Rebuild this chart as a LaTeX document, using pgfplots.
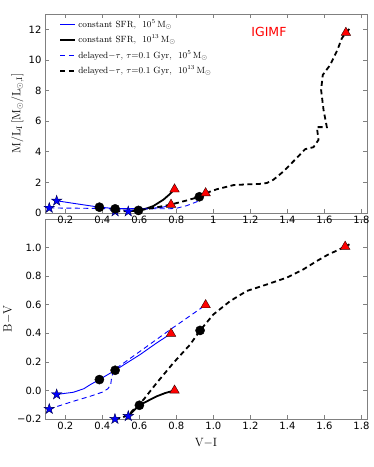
\documentclass[border=0pt]{standalone}
\usepackage{fontspec}
\usepackage{pgfplots}
\pgfplotsset{compat=1.18}
\newfontfamily\dejavu{DejaVu Sans}
\definecolor{framegray}{RGB}{128,128,128}
\definecolor{mplblue}{RGB}{0,0,255}
\definecolor{mplred}{RGB}{255,0,0}

% filled five-pointed star
\pgfdeclareplotmark{fstar}{%
  \pgfpathmoveto{\pgfpointpolar{90}{\pgfplotmarksize}}%
  \pgfpathlineto{\pgfpointpolar{126}{0.382\pgfplotmarksize}}%
  \pgfpathlineto{\pgfpointpolar{162}{\pgfplotmarksize}}%
  \pgfpathlineto{\pgfpointpolar{198}{0.382\pgfplotmarksize}}%
  \pgfpathlineto{\pgfpointpolar{234}{\pgfplotmarksize}}%
  \pgfpathlineto{\pgfpointpolar{270}{0.382\pgfplotmarksize}}%
  \pgfpathlineto{\pgfpointpolar{306}{\pgfplotmarksize}}%
  \pgfpathlineto{\pgfpointpolar{342}{0.382\pgfplotmarksize}}%
  \pgfpathlineto{\pgfpointpolar{18}{\pgfplotmarksize}}%
  \pgfpathlineto{\pgfpointpolar{54}{0.382\pgfplotmarksize}}%
  \pgfpathclose
  \pgfusepathqfillstroke}

\pgfplotsset{
  panel/.style={
    scale only axis, width=322pt,
    xmin=0.09, xmax=1.83,
    axis line style={framegray, line width=0.8pt},
    tick style={framegray, line width=0.6pt},
    tick align=inside, major tick length=4pt,
    xtick={0.2,0.4,0.6,0.8,1.0,1.2,1.4,1.6,1.8},
    ticklabel style={font=\dejavu\fontsize{10}{12}\selectfont},
    /pgf/number format/assume math mode=true,
    label style={font=\fontsize{12}{14}\selectfont},
  },
  sfr1/.style={mplblue, line width=0.9pt},
  sfr2/.style={black, line width=1.8pt},
  del1/.style={mplblue, line width=0.9pt, dash pattern=on 5pt off 3.5pt},
  del2/.style={black, line width=1.8pt, dash pattern=on 5pt off 3.5pt},
  stars/.style={only marks, mark=fstar, mark size=5.5pt, mark options={solid, fill=mplblue, draw=black!70!blue, line width=0.4pt}, forget plot},
  dots/.style={only marks, mark=*, mark size=4.6pt, mark options={solid, fill=black, draw=black}, forget plot},
  tris/.style={only marks, mark=triangle*, mark size=5.5pt, mark options={solid, fill=mplred, draw=black!80!red, line width=0.4pt}, forget plot},
}

\begin{document}
\begin{tikzpicture}
% lower panel: B-V against V-I
\begin{axis}[panel, at={(0pt,0pt)}, height=200pt,
    ymin=-0.2, ymax=1.2,
    ytick={-0.2,0,0.2,0.4,0.6,0.8,1.0},
    yticklabels={−0.2,0.0,0.2,0.4,0.6,0.8,1.0},
    xticklabels={0.2,0.4,0.6,0.8,1.0,1.2,1.4,1.6,1.8},
    xlabel={$\mathrm{V{-}I}$}, ylabel={$\mathrm{B{-}V}$},
    xlabel style={at={(axis description cs:0.5,-0.12)}, anchor=center},
    ylabel style={at={(axis description cs:-0.115,0.5)}, anchor=center},
]
\addplot[sfr1] coordinates {(0.153,-0.028) (0.243,-0.013) (0.300,0.012) (0.334,0.04) (0.384,0.076) (0.469,0.141) (0.604,0.251) (0.694,0.333) (0.771,0.398)};
\addplot[del1] coordinates {(0.113,-0.13) (0.243,-0.076) (0.334,-0.041) (0.400,-0.012) (0.430,0.012) (0.445,0.040) (0.450,0.090) (0.458,0.130) (0.486,0.165) (0.604,0.274) (0.766,0.425) (0.958,0.598)};
\addplot[sfr2] coordinates {(0.54,-0.18) (0.57,-0.14) (0.60,-0.104) (0.65,-0.07) (0.694,-0.041) (0.74,-0.018) (0.79,0.0)};
\addplot[del2] coordinates {(0.468,-0.2) (0.51,-0.19) (0.55,-0.16) (0.60,-0.09) (0.622,-0.065) (0.694,0.053) (0.784,0.193) (0.874,0.321) (0.928,0.42) (1.0,0.532) (1.09,0.625) (1.18,0.696) (1.289,0.742) (1.397,0.79) (1.487,0.848) (1.559,0.906) (1.613,0.946) (1.712,1.007) (1.735,1.023)};
\addplot[stars] coordinates {(0.113,-0.13) (0.153,-0.028) (0.468,-0.2) (0.54,-0.18)};
\addplot[dots] coordinates {(0.384,0.076) (0.469,0.141) (0.60,-0.104) (0.928,0.42)};
\addplot[tris] coordinates {(0.771,0.398) (0.79,0.0) (0.958,0.598) (1.712,1.007)};
\end{axis}

% upper panel: mass-to-light ratio against V-I
\begin{axis}[panel, at={(0pt,206pt)}, height=199pt,
    ymin=0, ymax=13,
    ytick={0,2,4,6,8,10,12},
    yticklabels={0,2,4,6,8,10,12},
    xticklabel={},
    ylabel={$\mathrm{M/L_I\,[M_\odot/L_{\odot,I}]}$},
    ylabel style={at={(axis description cs:-0.085,0.5)}, anchor=center},
    legend cell align=left,
    legend style={draw=none, fill=none, at={(0.035,0.99)}, anchor=north west,
        font=\fontsize{9}{10}\selectfont, row sep=2.5pt,
        nodes={text height=7pt, text depth=2pt, inner sep=2pt}},
    legend image code/.code={\draw[#1] (0pt,0pt) -- (15pt,0pt);},
]
\addplot[sfr1] coordinates {(0.153,0.80) (0.25,0.62) (0.384,0.38) (0.469,0.29) (0.55,0.28) (0.65,0.30) (0.72,0.36) (0.771,0.52)};
\addlegendentry{constant SFR,\ \ $10^5\,\mathrm{M_\odot}$}
\addplot[sfr2] coordinates {(0.54,0.10) (0.595,0.17) (0.64,0.30) (0.676,0.46) (0.73,0.87) (0.766,1.25) (0.79,1.55)};
\addlegendentry{constant SFR,\ \ $10^{13}\,\mathrm{M_\odot}$}
\addplot[del1] coordinates {(0.113,0.33) (0.3,0.31) (0.45,0.28) (0.6,0.27) (0.766,0.28) (0.80,0.31) (0.856,0.48) (0.92,0.78) (0.958,1.30)};
\addlegendentry{delayed$-\tau$, $\tau$=0.1 Gyr,\ \ $10^5\,\mathrm{M_\odot}$}
\addplot[del2] coordinates {(0.469,0.10) (0.52,0.12) (0.595,0.17) (0.676,0.33) (0.766,0.54) (0.856,0.82) (0.924,1.06) (0.96,1.30) (1.018,1.55) (1.108,1.82) (1.18,1.87) (1.25,1.90) (1.289,1.96) (1.324,2.17) (1.378,2.71) (1.432,3.37) (1.496,4.17) (1.541,4.30) (1.568,4.78) (1.559,5.61) (1.613,5.61) (1.595,6.74) (1.582,8.04) (1.591,9.02) (1.631,9.67) (1.67,10.65) (1.694,11.41) (1.716,11.78) (1.739,12.07)};
\addlegendentry{delayed$-\tau$, $\tau$=0.1 Gyr,\ \ $10^{13}\,\mathrm{M_\odot}$}
\addplot[stars] coordinates {(0.113,0.33) (0.153,0.80) (0.469,0.10) (0.54,0.10)};
\addplot[dots] coordinates {(0.384,0.38) (0.469,0.27) (0.595,0.17) (0.924,1.06)};
\addplot[tris] coordinates {(0.771,0.55) (0.79,1.55) (0.958,1.30) (1.716,11.78)};
\node[text=mplred, font=\dejavu\fontsize{12.5}{15}\selectfont] at (axis cs:1.30,11.83) {IGIMF};
\end{axis}
\pgfresetboundingbox
\path[use as bounding box] (-45pt,-48pt) rectangle (329pt,419pt);
\end{tikzpicture}
\end{document}
